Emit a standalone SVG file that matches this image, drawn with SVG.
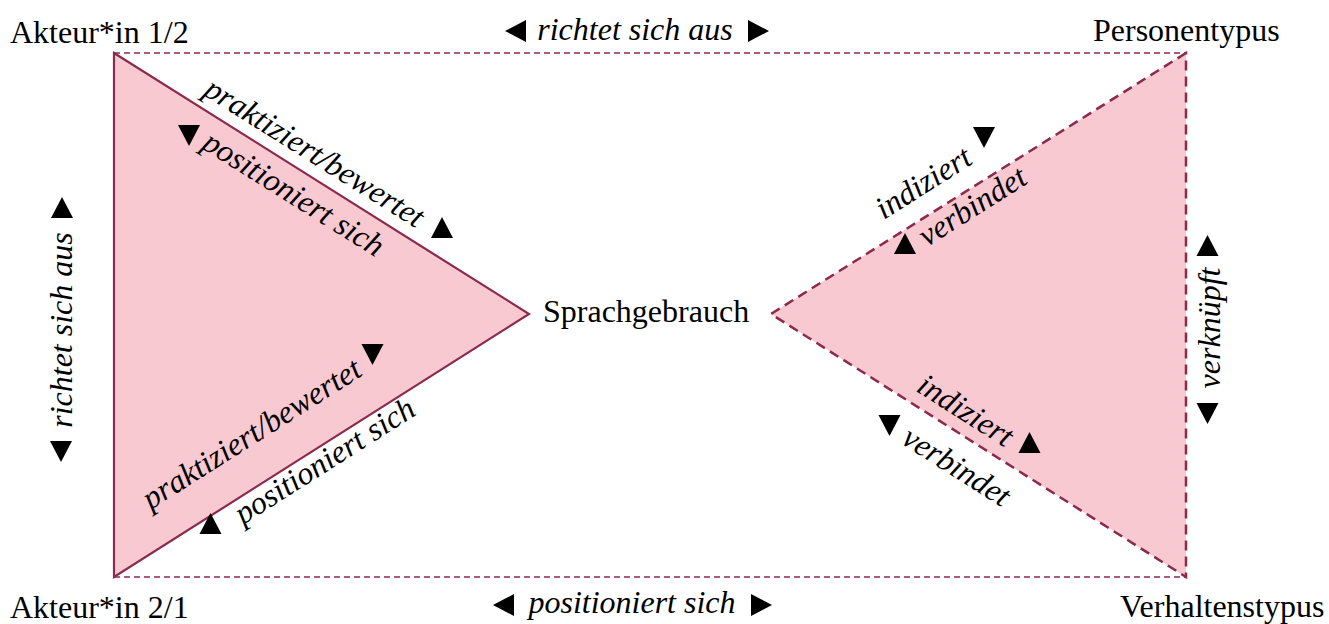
<svg xmlns="http://www.w3.org/2000/svg" xmlns:xlink="http://www.w3.org/1999/xlink" width="1329" height="624" viewBox="0 0 1329 624">
  <style>
    .lbl { font-family: "Liberation Serif", "Times New Roman", serif; font-size: 32px; fill: #000; }
    .it { font-family: "Liberation Serif", "Times New Roman", serif; font-size: 32px; font-style: italic; fill: #000; }
    .mid { text-anchor: middle; }
    .tri-solid { fill: #f8c9d1; stroke: #8b2a4c; stroke-width: 2.2; stroke-linejoin: miter; }
    .tri-dash { fill: #f8c9d1; stroke: #8b2a4c; stroke-width: 2.5; stroke-dasharray: 10 6; }
    .thin-dash { fill: none; stroke: #8b2a4c; stroke-width: 1.3; stroke-dasharray: 6 4; }
    .arr { fill: #000; }
  </style>
  <defs>
    <path id="tri" d="M-10,-11 L11,0 L-10,11 Z"/>
  </defs>
  <rect width="1329" height="624" fill="#ffffff"/>

  <g id="connectors">
    <line class="thin-dash" x1="114" y1="53" x2="1186" y2="53"/>
    <line class="thin-dash" x1="114" y1="577" x2="1186" y2="577"/>
  </g>

  <g id="triangle-left">
    <polygon class="tri-solid" points="114,53 529,314 114,577"/>
  </g>
  <g id="triangle-right">
    <polygon class="tri-dash" points="1186,53 771,314 1186,577"/>
  </g>

  <g id="node-akteur-12"><text class="lbl" x="10" y="43">Akteur*in 1/2</text></g>
  <g id="node-akteur-21"><text class="lbl" x="10" y="618">Akteur*in 2/1</text></g>
  <g id="node-personentypus"><text class="lbl" x="1093" y="41">Personentypus</text></g>
  <g id="node-verhaltenstypus"><text class="lbl" x="1120" y="617">Verhaltenstypus</text></g>
  <g id="node-sprachgebrauch"><text class="lbl" x="543" y="322">Sprachgebrauch</text></g>

  <g id="labels">
    <!-- top -->
    <use href="#tri" class="arr" transform="translate(516,31) rotate(180)"/>
    <text class="it mid" x="635" y="40">richtet sich aus</text>
    <use href="#tri" class="arr" transform="translate(758,31)"/>
    <!-- bottom -->
    <use href="#tri" class="arr" transform="translate(504,605) rotate(180)"/>
    <text class="it mid" x="632" y="613">positioniert sich</text>
    <use href="#tri" class="arr" transform="translate(761,605)"/>
    <!-- left vertical -->
    <use href="#tri" class="arr" transform="translate(62,208) rotate(-90)"/>
    <text class="it mid" transform="translate(72,330) rotate(-90)">richtet sich aus</text>
    <use href="#tri" class="arr" transform="translate(61,451) rotate(90)"/>
    <!-- right vertical -->
    <use href="#tri" class="arr" transform="translate(1207.5,246) rotate(-90)"/>
    <text class="it mid" transform="translate(1220,328) rotate(-90)">verknüpft</text>
    <use href="#tri" class="arr" transform="translate(1207.5,413) rotate(90)"/>

    <!-- upper-left edge -->
    <text class="it mid" transform="translate(302.8,171.6) rotate(32.13)" y="-12">praktiziert/bewertet</text>
    <use href="#tri" class="arr" transform="translate(442,228) rotate(-90)"/>
    <use href="#tri" class="arr" transform="translate(189,135) rotate(90)"/>
    <text class="it mid" transform="translate(306.2,173.7) rotate(32.13)" y="34">positioniert sich</text>

    <!-- lower-left edge -->
    <text class="it mid" transform="translate(277,473.6) rotate(-32.37)" y="-37">praktiziert/bewertet</text>
    <use href="#tri" class="arr" transform="translate(372.5,354) rotate(90)"/>
    <use href="#tri" class="arr" transform="translate(210.5,524) rotate(-90)"/>
    <text class="it mid" transform="translate(316.7,448.5) rotate(-32.37)" y="25">positioniert sich</text>

    <!-- upper-right edge -->
    <text class="it mid" transform="translate(939.5,208.4) rotate(-32.23)" y="-20">indiziert</text>
    <use href="#tri" class="arr" transform="translate(984,137) rotate(90)"/>
    <use href="#tri" class="arr" transform="translate(905,244) rotate(-90)"/>
    <text class="it mid" transform="translate(964,193) rotate(-32.23)" y="26">verbindet</text>

    <!-- lower-right edge -->
    <text class="it mid" transform="translate(953.5,429.3) rotate(32.42)" y="-12">indiziert</text>
    <use href="#tri" class="arr" transform="translate(1029.5,443) rotate(-90)"/>
    <use href="#tri" class="arr" transform="translate(889.5,425) rotate(90)"/>
    <text class="it mid" transform="translate(972.5,441.4) rotate(32.42)" y="40">verbindet</text>
  </g>
</svg>
